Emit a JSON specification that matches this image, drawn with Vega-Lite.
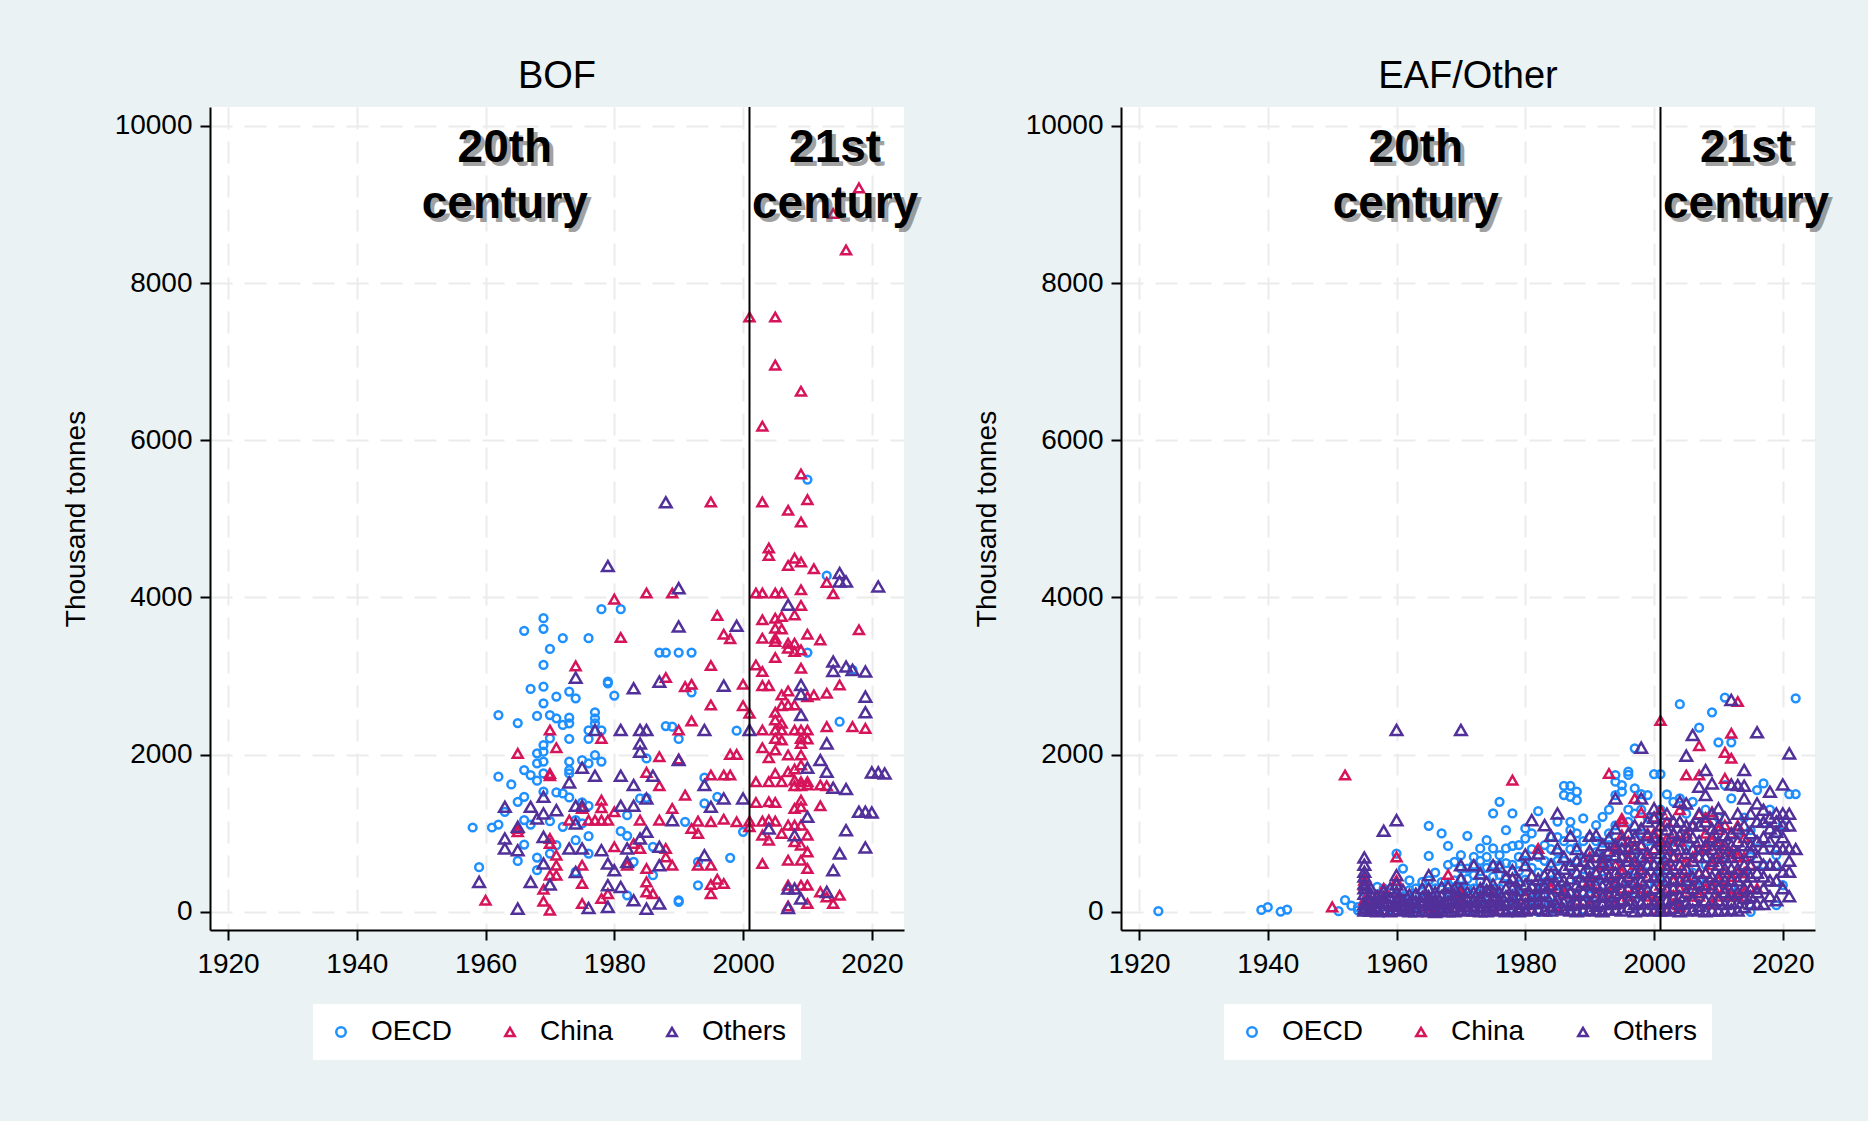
{
  "$schema": "https://vega.github.io/schema/vega-lite/v6.json",
  "background": "#EAF2F3",
  "padding": {"left": 62, "top": 58, "right": 34, "bottom": 61},
  "spacing": 50,
  "config": {
    "font": "Liberation Sans",
    "view": {"fill": "white", "stroke": null},
    "title": {"fontSize": 38, "fontWeight": "normal", "color": "black", "offset": 10, "font": "Liberation Sans"},
    "axis": {
      "domainColor": "black", "domainWidth": 2,
      "tickColor": "black", "tickWidth": 2, "tickSize": 10,
      "labelFontSize": 28, "labelColor": "black", "labelFont": "Liberation Sans",
      "titleFontSize": 28, "titleFontWeight": "normal", "titleColor": "black", "titleFont": "Liberation Sans",
      "gridColor": "#EBEBEB", "gridWidth": 2, "gridDash": [22, 12]
    },
    "axisX": {"labelPadding": 10},
    "axisY": {"labelPadding": 8, "titlePadding": 24},
    "legend": {
      "orient": "bottom", "direction": "horizontal", "fillColor": "white",
      "padding": 14, "offset": 26, "labelFontSize": 28, "labelColor": "black", "labelFont": "Liberation Sans",
      "symbolSize": 90, "symbolStrokeWidth": 2.5, "columnPadding": 44, "labelOffset": 16,
      "layout": {"bottom": {"anchor": "middle"}}
    }
  },
  "datasets": {
    "notes": [
      {"t": 1963, "v": 9546, "label": "20th"},
      {"t": 1963, "v": 8831, "label": "century"},
      {"t": 2014.3, "v": 9546, "label": "21st"},
      {"t": 2014.3, "v": 8831, "label": "century"}
    ],
    "cutoff": [{"year": 2001}],
    "bof": [
      {"g":"OECD","t":1978,"v":3852},{"g":"OECD","t":1981,"v":3852},{"g":"OECD","t":1969,"v":3737},{"g":"OECD","t":1969,"v":3601},
      {"g":"OECD","t":1966,"v":3576},{"g":"OECD","t":1972,"v":3482},{"g":"OECD","t":1976,"v":3482},{"g":"OECD","t":1970,"v":3346},
      {"g":"OECD","t":1969,"v":3142},{"g":"OECD","t":1987,"v":3300},{"g":"OECD","t":1988,"v":3300},{"g":"OECD","t":1990,"v":3300},
      {"g":"OECD","t":1992,"v":3300},{"g":"OECD","t":1979,"v":2930},{"g":"OECD","t":2010,"v":5500},{"g":"OECD","t":2013,"v":4277},
      {"g":"OECD","t":2010,"v":3300},{"g":"OECD","t":2017,"v":3079},{"g":"OECD","t":1967,"v":2837},{"g":"OECD","t":1969,"v":2866},
      {"g":"OECD","t":1971,"v":2739},{"g":"OECD","t":1973,"v":2803},{"g":"OECD","t":1974,"v":2718},{"g":"OECD","t":1969,"v":2654},
      {"g":"OECD","t":1962,"v":2505},{"g":"OECD","t":1965,"v":2403},{"g":"OECD","t":1968,"v":2493},{"g":"OECD","t":1970,"v":2505},
      {"g":"OECD","t":1971,"v":2463},{"g":"OECD","t":1973,"v":2471},{"g":"OECD","t":1973,"v":2399},{"g":"OECD","t":1972,"v":2378},
      {"g":"OECD","t":1977,"v":2539},{"g":"OECD","t":1977,"v":2463},{"g":"OECD","t":1977,"v":2399},{"g":"OECD","t":1976,"v":2310},
      {"g":"OECD","t":1978,"v":2310},{"g":"OECD","t":1976,"v":2200},{"g":"OECD","t":1973,"v":2200},{"g":"OECD","t":1970,"v":2208},
      {"g":"OECD","t":1969,"v":2123},{"g":"OECD","t":1969,"v":2038},{"g":"OECD","t":1968,"v":2017},{"g":"OECD","t":1969,"v":1911},
      {"g":"OECD","t":1968,"v":1890},{"g":"OECD","t":1966,"v":1805},{"g":"OECD","t":1967,"v":1741},{"g":"OECD","t":1968,"v":1669},
      {"g":"OECD","t":1969,"v":1762},{"g":"OECD","t":1973,"v":1911},{"g":"OECD","t":1973,"v":1805},{"g":"OECD","t":1973,"v":1762},
      {"g":"OECD","t":1975,"v":1932},{"g":"OECD","t":1976,"v":1890},{"g":"OECD","t":1977,"v":1996},{"g":"OECD","t":1978,"v":1911},
      {"g":"OECD","t":1980,"v":2752},{"g":"OECD","t":1979,"v":2909},{"g":"OECD","t":1988,"v":2365},{"g":"OECD","t":1985,"v":1953},
      {"g":"OECD","t":1962,"v":1720},{"g":"OECD","t":1964,"v":1622},{"g":"OECD","t":1966,"v":1465},{"g":"OECD","t":1965,"v":1401},
      {"g":"OECD","t":1969,"v":1529},{"g":"OECD","t":1971,"v":1520},{"g":"OECD","t":1972,"v":1507},{"g":"OECD","t":1973,"v":1456},
      {"g":"OECD","t":1975,"v":1393},{"g":"OECD","t":1976,"v":1350},{"g":"OECD","t":1984,"v":1443},{"g":"OECD","t":1985,"v":1452},
      {"g":"OECD","t":1958,"v":1074},{"g":"OECD","t":1961,"v":1074},{"g":"OECD","t":1962,"v":1112},{"g":"OECD","t":1963,"v":1274},
      {"g":"OECD","t":1966,"v":1168},{"g":"OECD","t":1967,"v":1112},{"g":"OECD","t":1970,"v":1155},{"g":"OECD","t":1972,"v":1083},
      {"g":"OECD","t":1974,"v":1168},{"g":"OECD","t":1975,"v":1125},{"g":"OECD","t":1976,"v":964},{"g":"OECD","t":1974,"v":913},
      {"g":"OECD","t":1981,"v":1027},{"g":"OECD","t":1982,"v":968},{"g":"OECD","t":1986,"v":828},{"g":"OECD","t":1982,"v":1231},
      {"g":"OECD","t":1966,"v":857},{"g":"OECD","t":1968,"v":692},{"g":"OECD","t":1965,"v":649},{"g":"OECD","t":1970,"v":743},
      {"g":"OECD","t":1971,"v":849},{"g":"OECD","t":1968,"v":531},{"g":"OECD","t":1959,"v":569},{"g":"OECD","t":1976,"v":743},
      {"g":"OECD","t":1983,"v":637},{"g":"OECD","t":1986,"v":467},{"g":"OECD","t":1982,"v":212},{"g":"OECD","t":1990,"v":148},
      {"g":"OECD","t":1974,"v":509},{"g":"OECD","t":1992,"v":2794},{"g":"OECD","t":1989,"v":2357},{"g":"OECD","t":1990,"v":2200},
      {"g":"OECD","t":1999,"v":2306},{"g":"OECD","t":2015,"v":2420},{"g":"OECD","t":1994,"v":1707},{"g":"OECD","t":1996,"v":1465},
      {"g":"OECD","t":1994,"v":1380},{"g":"OECD","t":1991,"v":1146},{"g":"OECD","t":2000,"v":1019},{"g":"OECD","t":1998,"v":688},
      {"g":"OECD","t":1993,"v":637},{"g":"OECD","t":1993,"v":339},{"g":"OECD","t":1990,"v":127},

      {"g":"China","t":2001,"v":7568},{"g":"China","t":2005,"v":7568},{"g":"China","t":2005,"v":6956},{"g":"China","t":2009,"v":6625},
      {"g":"China","t":2003,"v":6179},{"g":"China","t":2016,"v":8421},{"g":"China","t":2018,"v":9211},{"g":"China","t":2014,"v":8886},
      {"g":"China","t":1980,"v":3979},{"g":"China","t":1985,"v":4056},{"g":"China","t":1989,"v":4056},{"g":"China","t":1981,"v":3491},
      {"g":"China","t":1974,"v":3130},{"g":"China","t":1988,"v":2981},{"g":"China","t":2009,"v":5572},{"g":"China","t":1995,"v":5215},
      {"g":"China","t":2003,"v":5215},{"g":"China","t":2010,"v":5245},{"g":"China","t":2007,"v":5109},{"g":"China","t":2009,"v":4960},
      {"g":"China","t":2004,"v":4629},{"g":"China","t":2004,"v":4536},{"g":"China","t":2007,"v":4408},{"g":"China","t":2008,"v":4501},
      {"g":"China","t":2009,"v":4451},{"g":"China","t":2011,"v":4366},{"g":"China","t":2013,"v":4192},{"g":"China","t":2014,"v":4047},
      {"g":"China","t":2009,"v":4098},{"g":"China","t":2002,"v":4056},{"g":"China","t":2003,"v":4056},{"g":"China","t":2005,"v":4056},
      {"g":"China","t":2006,"v":4056},{"g":"China","t":2009,"v":3899},{"g":"China","t":1996,"v":3771},{"g":"China","t":2003,"v":3716},
      {"g":"China","t":2005,"v":3737},{"g":"China","t":2006,"v":3758},{"g":"China","t":2008,"v":3779},{"g":"China","t":2006,"v":3601},
      {"g":"China","t":2005,"v":3610},{"g":"China","t":1997,"v":3533},{"g":"China","t":1998,"v":3474},{"g":"China","t":2003,"v":3482},
      {"g":"China","t":2005,"v":3482},{"g":"China","t":2005,"v":3440},{"g":"China","t":2007,"v":3418},{"g":"China","t":2008,"v":3418},
      {"g":"China","t":2010,"v":3533},{"g":"China","t":2012,"v":3461},{"g":"China","t":2018,"v":3589},{"g":"China","t":2007,"v":3355},
      {"g":"China","t":2008,"v":3312},{"g":"China","t":2009,"v":3334},{"g":"China","t":2005,"v":3236},{"g":"China","t":1995,"v":3134},
      {"g":"China","t":2002,"v":3142},{"g":"China","t":2003,"v":3058},{"g":"China","t":2009,"v":3100},
      {"g":"China","t":1970,"v":2314},{"g":"China","t":1971,"v":2089},{"g":"China","t":1978,"v":2208},{"g":"China","t":1965,"v":2017},
      {"g":"China","t":1970,"v":1762},{"g":"China","t":1970,"v":1733},{"g":"China","t":1985,"v":1775},{"g":"China","t":1987,"v":1974},
      {"g":"China","t":1987,"v":1605},{"g":"China","t":1989,"v":1316},{"g":"China","t":1978,"v":1422},{"g":"China","t":1975,"v":1316},
      {"g":"China","t":1976,"v":1168},{"g":"China","t":1977,"v":1168},{"g":"China","t":1978,"v":1168},{"g":"China","t":1979,"v":1168},
      {"g":"China","t":1973,"v":1168},{"g":"China","t":1980,"v":1274},{"g":"China","t":1984,"v":1168},{"g":"China","t":1987,"v":1168},
      {"g":"China","t":1965,"v":1062},{"g":"China","t":1965,"v":1019},{"g":"China","t":1970,"v":934},{"g":"China","t":1970,"v":870},
      {"g":"China","t":1980,"v":828},{"g":"China","t":1983,"v":870},{"g":"China","t":1988,"v":700},{"g":"China","t":1989,"v":594},
      {"g":"China","t":1971,"v":722},{"g":"China","t":1971,"v":594},{"g":"China","t":1970,"v":467},{"g":"China","t":1971,"v":467},
      {"g":"China","t":1975,"v":594},{"g":"China","t":1982,"v":594},{"g":"China","t":1985,"v":552},{"g":"China","t":1985,"v":382},
      {"g":"China","t":1985,"v":255},{"g":"China","t":1986,"v":233},{"g":"China","t":1969,"v":288},{"g":"China","t":1969,"v":136},
      {"g":"China","t":1970,"v":21},{"g":"China","t":1975,"v":361},{"g":"China","t":1975,"v":106},{"g":"China","t":1978,"v":170},
      {"g":"China","t":1979,"v":233},{"g":"China","t":1960,"v":148},{"g":"China","t":1978,"v":1325},{"g":"China","t":1984,"v":807},
      {"g":"China","t":1988,"v":807},
      {"g":"China","t":1991,"v":2866},{"g":"China","t":1992,"v":2896},{"g":"China","t":2000,"v":2896},{"g":"China","t":2003,"v":2879},
      {"g":"China","t":2004,"v":2879},{"g":"China","t":2015,"v":2888},{"g":"China","t":2006,"v":2760},{"g":"China","t":2007,"v":2811},
      {"g":"China","t":2010,"v":2739},{"g":"China","t":2011,"v":2760},{"g":"China","t":2013,"v":2781},{"g":"China","t":1995,"v":2633},
      {"g":"China","t":2000,"v":2624},{"g":"China","t":2001,"v":2527},{"g":"China","t":2005,"v":2539},{"g":"China","t":2006,"v":2624},
      {"g":"China","t":2007,"v":2633},{"g":"China","t":2008,"v":2633},{"g":"China","t":1992,"v":2429},{"g":"China","t":1990,"v":2314},
      {"g":"China","t":2005,"v":2442},{"g":"China","t":2006,"v":2399},{"g":"China","t":2003,"v":2314},{"g":"China","t":2005,"v":2314},
      {"g":"China","t":2006,"v":2314},{"g":"China","t":2008,"v":2314},{"g":"China","t":2009,"v":2314},{"g":"China","t":2010,"v":2314},
      {"g":"China","t":2005,"v":2208},{"g":"China","t":2006,"v":2187},{"g":"China","t":2009,"v":2208},{"g":"China","t":2010,"v":2200},
      {"g":"China","t":2009,"v":2144},{"g":"China","t":2013,"v":2357},{"g":"China","t":2017,"v":2357},{"g":"China","t":2019,"v":2335},
      {"g":"China","t":2003,"v":2089},{"g":"China","t":2005,"v":2059},{"g":"China","t":2004,"v":1962},{"g":"China","t":2007,"v":1996},
      {"g":"China","t":2009,"v":1996},{"g":"China","t":1998,"v":2004},{"g":"China","t":1999,"v":2004},{"g":"China","t":1990,"v":1945},
      {"g":"China","t":1995,"v":1741},{"g":"China","t":1997,"v":1741},{"g":"China","t":1998,"v":1741},{"g":"China","t":2002,"v":1656},
      {"g":"China","t":2004,"v":1656},{"g":"China","t":2005,"v":1762},{"g":"China","t":2006,"v":1656},{"g":"China","t":2007,"v":1783},
      {"g":"China","t":2008,"v":1817},{"g":"China","t":2009,"v":1868},{"g":"China","t":2008,"v":1677},{"g":"China","t":2009,"v":1656},
      {"g":"China","t":2010,"v":1656},{"g":"China","t":2008,"v":1605},{"g":"China","t":2009,"v":1605},{"g":"China","t":2010,"v":1614},
      {"g":"China","t":2012,"v":1614},{"g":"China","t":2013,"v":1605},{"g":"China","t":1991,"v":1486},{"g":"China","t":2002,"v":1393},
      {"g":"China","t":2004,"v":1401},{"g":"China","t":2005,"v":1393},{"g":"China","t":2009,"v":1422},{"g":"China","t":2008,"v":1316},
      {"g":"China","t":2009,"v":1337},{"g":"China","t":2012,"v":1350},{"g":"China","t":1993,"v":1155},{"g":"China","t":1992,"v":1062},
      {"g":"China","t":1993,"v":998},{"g":"China","t":1995,"v":1146},{"g":"China","t":1997,"v":1180},{"g":"China","t":1999,"v":1146},
      {"g":"China","t":2001,"v":1155},{"g":"China","t":2001,"v":1083},{"g":"China","t":2003,"v":1155},{"g":"China","t":2004,"v":1168},
      {"g":"China","t":2005,"v":1155},{"g":"China","t":2007,"v":1104},{"g":"China","t":2008,"v":1104},{"g":"China","t":2009,"v":1104},
      {"g":"China","t":2006,"v":998},{"g":"China","t":2003,"v":977},{"g":"China","t":2004,"v":913},{"g":"China","t":2008,"v":892},
      {"g":"China","t":2009,"v":849},{"g":"China","t":2010,"v":977},{"g":"China","t":2010,"v":764},{"g":"China","t":1993,"v":594},
      {"g":"China","t":1995,"v":594},{"g":"China","t":2003,"v":615},{"g":"China","t":2007,"v":658},{"g":"China","t":2009,"v":658},
      {"g":"China","t":2010,"v":552},{"g":"China","t":1995,"v":348},{"g":"China","t":1996,"v":416},{"g":"China","t":1997,"v":361},
      {"g":"China","t":1995,"v":233},{"g":"China","t":2007,"v":339},{"g":"China","t":2009,"v":339},{"g":"China","t":2010,"v":339},
      {"g":"China","t":2012,"v":255},{"g":"China","t":2013,"v":191},{"g":"China","t":2015,"v":212},{"g":"China","t":2010,"v":106},
      {"g":"China","t":2014,"v":106},{"g":"China","t":2007,"v":76},

      {"g":"Others","t":1988,"v":5211},{"g":"Others","t":1979,"v":4400},{"g":"Others","t":1990,"v":4119},{"g":"Others","t":1990,"v":3631},
      {"g":"Others","t":1974,"v":2981},{"g":"Others","t":1987,"v":2930},{"g":"Others","t":2015,"v":4311},{"g":"Others","t":2015,"v":4204},
      {"g":"Others","t":2016,"v":4204},{"g":"Others","t":2021,"v":4141},{"g":"Others","t":2007,"v":3907},{"g":"Others","t":1999,"v":3640},
      {"g":"Others","t":2014,"v":3185},{"g":"Others","t":2014,"v":3066},{"g":"Others","t":2016,"v":3121},{"g":"Others","t":2017,"v":3079},
      {"g":"Others","t":2019,"v":3058},{"g":"Others","t":1983,"v":2845},{"g":"Others","t":1981,"v":2314},{"g":"Others","t":1984,"v":2314},
      {"g":"Others","t":1985,"v":2314},{"g":"Others","t":1977,"v":2314},{"g":"Others","t":1984,"v":2144},{"g":"Others","t":1984,"v":2038},
      {"g":"Others","t":1975,"v":1834},{"g":"Others","t":1977,"v":1733},{"g":"Others","t":1973,"v":1648},{"g":"Others","t":1981,"v":1733},
      {"g":"Others","t":1983,"v":1614},{"g":"Others","t":1986,"v":1733},{"g":"Others","t":1969,"v":1465},{"g":"Others","t":1985,"v":1443},
      {"g":"Others","t":1963,"v":1337},{"g":"Others","t":1967,"v":1337},{"g":"Others","t":1971,"v":1295},{"g":"Others","t":1974,"v":1350},
      {"g":"Others","t":1975,"v":1350},{"g":"Others","t":1981,"v":1350},{"g":"Others","t":1983,"v":1350},{"g":"Others","t":1968,"v":1189},
      {"g":"Others","t":1969,"v":1253},{"g":"Others","t":1974,"v":1125},{"g":"Others","t":1989,"v":1168},{"g":"Others","t":1965,"v":1083},
      {"g":"Others","t":1969,"v":955},{"g":"Others","t":1963,"v":934},{"g":"Others","t":1963,"v":807},{"g":"Others","t":1965,"v":785},
      {"g":"Others","t":1973,"v":807},{"g":"Others","t":1975,"v":807},{"g":"Others","t":1978,"v":785},{"g":"Others","t":1982,"v":807},
      {"g":"Others","t":1985,"v":1019},{"g":"Others","t":1984,"v":934},{"g":"Others","t":1987,"v":828},{"g":"Others","t":1969,"v":615},
      {"g":"Others","t":1974,"v":509},{"g":"Others","t":1979,"v":615},{"g":"Others","t":1980,"v":531},{"g":"Others","t":1982,"v":637},
      {"g":"Others","t":1987,"v":594},{"g":"Others","t":1959,"v":382},{"g":"Others","t":1967,"v":382},{"g":"Others","t":1970,"v":348},
      {"g":"Others","t":1979,"v":339},{"g":"Others","t":1981,"v":318},{"g":"Others","t":1983,"v":148},{"g":"Others","t":1965,"v":42},
      {"g":"Others","t":1976,"v":51},{"g":"Others","t":1979,"v":64},{"g":"Others","t":1985,"v":42},{"g":"Others","t":1987,"v":106},
      {"g":"Others","t":1997,"v":2879},{"g":"Others","t":2009,"v":2888},{"g":"Others","t":2009,"v":2769},{"g":"Others","t":2019,"v":2739},
      {"g":"Others","t":2019,"v":2539},{"g":"Others","t":1994,"v":2314},{"g":"Others","t":2001,"v":2314},{"g":"Others","t":2009,"v":2505},
      {"g":"Others","t":2013,"v":2144},{"g":"Others","t":2012,"v":1932},{"g":"Others","t":2010,"v":1834},{"g":"Others","t":2013,"v":1783},
      {"g":"Others","t":1990,"v":1932},{"g":"Others","t":1994,"v":1614},{"g":"Others","t":2014,"v":1580},{"g":"Others","t":2016,"v":1563},
      {"g":"Others","t":2020,"v":1775},{"g":"Others","t":2021,"v":1775},{"g":"Others","t":2022,"v":1762},{"g":"Others","t":1997,"v":1444},
      {"g":"Others","t":2000,"v":1444},{"g":"Others","t":1995,"v":1337},{"g":"Others","t":2018,"v":1274},{"g":"Others","t":2019,"v":1274},
      {"g":"Others","t":2020,"v":1265},{"g":"Others","t":2010,"v":1210},{"g":"Others","t":2004,"v":1062},{"g":"Others","t":2008,"v":977},
      {"g":"Others","t":2016,"v":1040},{"g":"Others","t":1994,"v":722},{"g":"Others","t":2015,"v":743},{"g":"Others","t":2019,"v":820},
      {"g":"Others","t":2014,"v":530},{"g":"Others","t":2007,"v":297},{"g":"Others","t":2008,"v":297},{"g":"Others","t":2013,"v":255},
      {"g":"Others","t":2009,"v":170},{"g":"Others","t":2007,"v":51}
    ],
    "eaf": [
      {"g":"OECD","t":1923,"v":10},{"g":"OECD","t":1939,"v":25},{"g":"OECD","t":1940,"v":60},{"g":"OECD","t":1942,"v":5},
      {"g":"OECD","t":1943,"v":30},{"g":"OECD","t":1951,"v":10},{"g":"OECD","t":1952,"v":150},{"g":"OECD","t":1953,"v":80},
      {"g":"OECD","t":1954,"v":20},{"g":"OECD","t":1954,"v":60},{"g":"OECD","t":1955,"v":0},{"g":"OECD","t":1955,"v":120},
      {"g":"OECD","t":1956,"v":30},{"g":"OECD","t":1956,"v":200},{"g":"OECD","t":1957,"v":320},{"g":"OECD","t":1957,"v":60},
      {"g":"OECD","t":1958,"v":10},{"g":"OECD","t":1958,"v":150},{"g":"OECD","t":1959,"v":90},{"g":"OECD","t":1959,"v":250},
      {"g":"OECD","t":1960,"v":743},{"g":"OECD","t":1960,"v":20},{"g":"OECD","t":1960,"v":180},{"g":"OECD","t":1961,"v":552},
      {"g":"OECD","t":1961,"v":40},{"g":"OECD","t":1961,"v":110},{"g":"OECD","t":1962,"v":276},{"g":"OECD","t":1962,"v":0},
      {"g":"OECD","t":1962,"v":160},{"g":"OECD","t":1963,"v":70},{"g":"OECD","t":1963,"v":230},{"g":"OECD","t":1964,"v":382},
      {"g":"OECD","t":1964,"v":255},{"g":"OECD","t":1964,"v":30},{"g":"OECD","t":1965,"v":1095},{"g":"OECD","t":1965,"v":713},
      {"g":"OECD","t":1965,"v":90},{"g":"OECD","t":1965,"v":180},{"g":"OECD","t":1966,"v":20},{"g":"OECD","t":1966,"v":300},
      {"g":"OECD","t":1966,"v":140},{"g":"OECD","t":1967,"v":998},{"g":"OECD","t":1967,"v":60},{"g":"OECD","t":1967,"v":210},
      {"g":"OECD","t":1968,"v":840},{"g":"OECD","t":1968,"v":120},{"g":"OECD","t":1968,"v":350},{"g":"OECD","t":1969,"v":637},
      {"g":"OECD","t":1969,"v":10},{"g":"OECD","t":1969,"v":260},{"g":"OECD","t":1970,"v":722},{"g":"OECD","t":1970,"v":80},
      {"g":"OECD","t":1970,"v":420},{"g":"OECD","t":1970,"v":180},{"g":"OECD","t":1971,"v":968},{"g":"OECD","t":1971,"v":552},
      {"g":"OECD","t":1971,"v":40},{"g":"OECD","t":1971,"v":300},{"g":"OECD","t":1972,"v":700},{"g":"OECD","t":1972,"v":467},
      {"g":"OECD","t":1972,"v":150},{"g":"OECD","t":1972,"v":20},{"g":"OECD","t":1973,"v":807},{"g":"OECD","t":1973,"v":240},
      {"g":"OECD","t":1973,"v":60},{"g":"OECD","t":1973,"v":380},{"g":"OECD","t":1974,"v":913},{"g":"OECD","t":1974,"v":560},
      {"g":"OECD","t":1974,"v":110},{"g":"OECD","t":1974,"v":0},{"g":"OECD","t":1975,"v":1253},{"g":"OECD","t":1975,"v":807},
      {"g":"OECD","t":1975,"v":300},{"g":"OECD","t":1975,"v":30},{"g":"OECD","t":1976,"v":1401},{"g":"OECD","t":1976,"v":722},
      {"g":"OECD","t":1976,"v":180},{"g":"OECD","t":1976,"v":470},{"g":"OECD","t":1976,"v":10},{"g":"OECD","t":1977,"v":1040},
      {"g":"OECD","t":1977,"v":807},{"g":"OECD","t":1977,"v":620},{"g":"OECD","t":1977,"v":90},{"g":"OECD","t":1978,"v":1253},
      {"g":"OECD","t":1978,"v":840},{"g":"OECD","t":1978,"v":330},{"g":"OECD","t":1978,"v":40},{"g":"OECD","t":1979,"v":700},
      {"g":"OECD","t":1979,"v":210},{"g":"OECD","t":1979,"v":20},{"g":"OECD","t":1979,"v":520},{"g":"OECD","t":1980,"v":1062},
      {"g":"OECD","t":1980,"v":934},{"g":"OECD","t":1980,"v":410},{"g":"OECD","t":1980,"v":80},{"g":"OECD","t":1981,"v":998},
      {"g":"OECD","t":1981,"v":560},{"g":"OECD","t":1981,"v":150},{"g":"OECD","t":1981,"v":20},{"g":"OECD","t":1982,"v":1282},
      {"g":"OECD","t":1982,"v":700},{"g":"OECD","t":1982,"v":260},{"g":"OECD","t":1982,"v":0},{"g":"OECD","t":1983,"v":850},
      {"g":"OECD","t":1983,"v":380},{"g":"OECD","t":1983,"v":60},{"g":"OECD","t":1984,"v":960},{"g":"OECD","t":1984,"v":620},
      {"g":"OECD","t":1984,"v":200},{"g":"OECD","t":1984,"v":30},{"g":"OECD","t":1985,"v":1150},{"g":"OECD","t":1985,"v":760},
      {"g":"OECD","t":1985,"v":480},{"g":"OECD","t":1985,"v":110},{"g":"OECD","t":1986,"v":1605},{"g":"OECD","t":1986,"v":1486},
      {"g":"OECD","t":1986,"v":900},{"g":"OECD","t":1986,"v":300},{"g":"OECD","t":1986,"v":20},{"g":"OECD","t":1987,"v":1605},
      {"g":"OECD","t":1987,"v":1465},{"g":"OECD","t":1987,"v":1146},{"g":"OECD","t":1987,"v":1040},{"g":"OECD","t":1987,"v":560},
      {"g":"OECD","t":1987,"v":70},{"g":"OECD","t":1988,"v":1529},{"g":"OECD","t":1988,"v":1422},{"g":"OECD","t":1988,"v":820},
      {"g":"OECD","t":1988,"v":400},{"g":"OECD","t":1988,"v":10},{"g":"OECD","t":1989,"v":1189},{"g":"OECD","t":1989,"v":690},
      {"g":"OECD","t":1989,"v":250},{"g":"OECD","t":1989,"v":30},{"g":"OECD","t":1990,"v":950},{"g":"OECD","t":1990,"v":520},
      {"g":"OECD","t":1990,"v":140},{"g":"OECD","t":1991,"v":1104},{"g":"OECD","t":1991,"v":760},{"g":"OECD","t":1991,"v":300},
      {"g":"OECD","t":1991,"v":0},{"g":"OECD","t":1992,"v":1210},{"g":"OECD","t":1992,"v":880},{"g":"OECD","t":1992,"v":420},
      {"g":"OECD","t":1992,"v":90},{"g":"OECD","t":1993,"v":1000},{"g":"OECD","t":1993,"v":640},{"g":"OECD","t":1993,"v":200},
      {"g":"OECD","t":1994,"v":1741},{"g":"OECD","t":1994,"v":1656},{"g":"OECD","t":1994,"v":1487},{"g":"OECD","t":1994,"v":880},
      {"g":"OECD","t":1994,"v":300},{"g":"OECD","t":1995,"v":1614},{"g":"OECD","t":1995,"v":1529},{"g":"OECD","t":1995,"v":1147},
      {"g":"OECD","t":1995,"v":700},{"g":"OECD","t":1995,"v":150},{"g":"OECD","t":1996,"v":1784},{"g":"OECD","t":1996,"v":1742},
      {"g":"OECD","t":1996,"v":1146},{"g":"OECD","t":1996,"v":820},{"g":"OECD","t":1996,"v":400},{"g":"OECD","t":1997,"v":2081},
      {"g":"OECD","t":1997,"v":1572},{"g":"OECD","t":1997,"v":1000},{"g":"OECD","t":1997,"v":520},{"g":"OECD","t":1997,"v":60},
      {"g":"OECD","t":1998,"v":1300},{"g":"OECD","t":1998,"v":700},{"g":"OECD","t":1998,"v":200},{"g":"OECD","t":1999,"v":1487},
      {"g":"OECD","t":1999,"v":900},{"g":"OECD","t":1999,"v":350},{"g":"OECD","t":2000,"v":1754},{"g":"OECD","t":2000,"v":1200},
      {"g":"OECD","t":2000,"v":600},{"g":"OECD","t":2000,"v":100},{"g":"OECD","t":2001,"v":1754},{"g":"OECD","t":2001,"v":1300},
      {"g":"OECD","t":2001,"v":500},{"g":"OECD","t":2002,"v":1495},{"g":"OECD","t":2002,"v":1126},{"g":"OECD","t":2002,"v":700},
      {"g":"OECD","t":2003,"v":1400},{"g":"OECD","t":2003,"v":400},{"g":"OECD","t":2004,"v":2642},{"g":"OECD","t":2004,"v":1444},
      {"g":"OECD","t":2004,"v":900},{"g":"OECD","t":2005,"v":1250},{"g":"OECD","t":2005,"v":300},{"g":"OECD","t":2006,"v":1100},
      {"g":"OECD","t":2006,"v":500},{"g":"OECD","t":2007,"v":2344},{"g":"OECD","t":2007,"v":800},{"g":"OECD","t":2008,"v":1300},
      {"g":"OECD","t":2008,"v":600},{"g":"OECD","t":2009,"v":2540},{"g":"OECD","t":2009,"v":900},{"g":"OECD","t":2010,"v":2158},
      {"g":"OECD","t":2010,"v":1200},{"g":"OECD","t":2010,"v":400},{"g":"OECD","t":2011,"v":2727},{"g":"OECD","t":2011,"v":1614},
      {"g":"OECD","t":2011,"v":700},{"g":"OECD","t":2012,"v":2158},{"g":"OECD","t":2012,"v":1444},{"g":"OECD","t":2012,"v":300},
      {"g":"OECD","t":2013,"v":1000},{"g":"OECD","t":2014,"v":1200},{"g":"OECD","t":2014,"v":500},{"g":"OECD","t":2015,"v":1041},
      {"g":"OECD","t":2015,"v":0},{"g":"OECD","t":2015,"v":700},{"g":"OECD","t":2016,"v":1550},{"g":"OECD","t":2016,"v":900},
      {"g":"OECD","t":2017,"v":1635},{"g":"OECD","t":2017,"v":1126},{"g":"OECD","t":2017,"v":600},{"g":"OECD","t":2018,"v":1300},
      {"g":"OECD","t":2018,"v":800},{"g":"OECD","t":2019,"v":722},{"g":"OECD","t":2019,"v":595},{"g":"OECD","t":2019,"v":85},
      {"g":"OECD","t":2019,"v":1000},{"g":"OECD","t":2020,"v":340},{"g":"OECD","t":2020,"v":1100},{"g":"OECD","t":2021,"v":1500},
      {"g":"OECD","t":2022,"v":1500},{"g":"OECD","t":2022,"v":2718},
      {"g":"OECD","t":1955,"v":60},{"g":"OECD","t":1955,"v":250},{"g":"OECD","t":1956,"v":100},{"g":"OECD","t":1957,"v":150},
      {"g":"OECD","t":1958,"v":70},{"g":"OECD","t":1958,"v":300},{"g":"OECD","t":1959,"v":30},{"g":"OECD","t":1959,"v":170},
      {"g":"OECD","t":1960,"v":100},{"g":"OECD","t":1960,"v":300},{"g":"OECD","t":1961,"v":200},{"g":"OECD","t":1962,"v":80},
      {"g":"OECD","t":1962,"v":400},{"g":"OECD","t":1963,"v":150},{"g":"OECD","t":1963,"v":300},{"g":"OECD","t":1964,"v":120},
      {"g":"OECD","t":1965,"v":30},{"g":"OECD","t":1965,"v":400},{"g":"OECD","t":1966,"v":200},{"g":"OECD","t":1966,"v":500},
      {"g":"OECD","t":1967,"v":130},{"g":"OECD","t":1967,"v":380},{"g":"OECD","t":1968,"v":40},{"g":"OECD","t":1968,"v":250},
      {"g":"OECD","t":1968,"v":600},{"g":"OECD","t":1969,"v":150},{"g":"OECD","t":1969,"v":400},{"g":"OECD","t":1970,"v":300},
      {"g":"OECD","t":1970,"v":550},{"g":"OECD","t":1971,"v":150},{"g":"OECD","t":1971,"v":420},{"g":"OECD","t":1972,"v":300},
      {"g":"OECD","t":1972,"v":600},{"g":"OECD","t":1973,"v":150},{"g":"OECD","t":1973,"v":520},{"g":"OECD","t":1973,"v":650},
      {"g":"OECD","t":1974,"v":250},{"g":"OECD","t":1974,"v":700},{"g":"OECD","t":1975,"v":150},{"g":"OECD","t":1975,"v":450},
      {"g":"OECD","t":1975,"v":600},{"g":"OECD","t":1976,"v":300},{"g":"OECD","t":1976,"v":600},{"g":"OECD","t":1977,"v":200},
      {"g":"OECD","t":1977,"v":450},{"g":"OECD","t":1978,"v":150},{"g":"OECD","t":1978,"v":600},{"g":"OECD","t":1979,"v":350},
      {"g":"OECD","t":1979,"v":850},{"g":"OECD","t":1980,"v":200},{"g":"OECD","t":1980,"v":650},{"g":"OECD","t":1981,"v":300},
      {"g":"OECD","t":1981,"v":800},{"g":"OECD","t":1982,"v":150},{"g":"OECD","t":1982,"v":500},{"g":"OECD","t":1983,"v":200},
      {"g":"OECD","t":1983,"v":650},{"g":"OECD","t":1984,"v":400},{"g":"OECD","t":1984,"v":800},{"g":"OECD","t":1985,"v":250},
      {"g":"OECD","t":1985,"v":650},{"g":"OECD","t":1985,"v":950},{"g":"OECD","t":1986,"v":150},{"g":"OECD","t":1986,"v":650},
      {"g":"OECD","t":1987,"v":250},{"g":"OECD","t":1987,"v":800},{"g":"OECD","t":1988,"v":200},{"g":"OECD","t":1988,"v":650},
      {"g":"OECD","t":1988,"v":1000},{"g":"OECD","t":1989,"v":450},{"g":"OECD","t":1989,"v":900},{"g":"OECD","t":1990,"v":300},
      {"g":"OECD","t":1990,"v":750},{"g":"OECD","t":1991,"v":500},{"g":"OECD","t":1991,"v":900},{"g":"OECD","t":1992,"v":250},
      {"g":"OECD","t":1992,"v":650},{"g":"OECD","t":1993,"v":450},{"g":"OECD","t":1993,"v":850},{"g":"OECD","t":1993,"v":1300},
      {"g":"OECD","t":1994,"v":600},{"g":"OECD","t":1994,"v":1100},{"g":"OECD","t":1995,"v":400},{"g":"OECD","t":1995,"v":900},
      {"g":"OECD","t":1996,"v":200},{"g":"OECD","t":1996,"v":1300},{"g":"OECD","t":1997,"v":300},{"g":"OECD","t":1997,"v":800},
      {"g":"OECD","t":1997,"v":1250},{"g":"OECD","t":1998,"v":1000},{"g":"OECD","t":1998,"v":1500},{"g":"OECD","t":1999,"v":600},
      {"g":"OECD","t":1999,"v":1200},{"g":"OECD","t":2000,"v":400},{"g":"OECD","t":2000,"v":900},{"g":"OECD","t":2001,"v":200},
      {"g":"OECD","t":2001,"v":900},{"g":"OECD","t":2002,"v":400},{"g":"OECD","t":2003,"v":900},{"g":"OECD","t":2004,"v":300},
      {"g":"OECD","t":2005,"v":800},{"g":"OECD","t":2006,"v":1400},{"g":"OECD","t":2007,"v":400},

      {"g":"China","t":1950,"v":64},{"g":"China","t":1952,"v":1741},{"g":"China","t":1955,"v":403},{"g":"China","t":1955,"v":340},
      {"g":"China","t":1955,"v":150},{"g":"China","t":1955,"v":42},{"g":"China","t":1956,"v":80},{"g":"China","t":1957,"v":200},
      {"g":"China","t":1958,"v":170},{"g":"China","t":1958,"v":300},{"g":"China","t":1960,"v":700},{"g":"China","t":1960,"v":400},
      {"g":"China","t":1960,"v":100},{"g":"China","t":1962,"v":60},{"g":"China","t":1965,"v":200},{"g":"China","t":1966,"v":148},
      {"g":"China","t":1968,"v":475},{"g":"China","t":1970,"v":100},{"g":"China","t":1975,"v":50},{"g":"China","t":1978,"v":1677},
      {"g":"China","t":1980,"v":200},{"g":"China","t":1982,"v":807},{"g":"China","t":1984,"v":300},{"g":"China","t":1986,"v":233},
      {"g":"China","t":1988,"v":150},{"g":"China","t":1990,"v":400},{"g":"China","t":1991,"v":250},{"g":"China","t":1992,"v":600},
      {"g":"China","t":1993,"v":1762},{"g":"China","t":1993,"v":467},{"g":"China","t":1993,"v":100},{"g":"China","t":1994,"v":800},
      {"g":"China","t":1994,"v":350},{"g":"China","t":1995,"v":1147},{"g":"China","t":1995,"v":977},{"g":"China","t":1995,"v":1189},
      {"g":"China","t":1995,"v":500},{"g":"China","t":1996,"v":700},{"g":"China","t":1996,"v":200},{"g":"China","t":1997,"v":1444},
      {"g":"China","t":1997,"v":600},{"g":"China","t":1998,"v":1266},{"g":"China","t":1998,"v":850},{"g":"China","t":1998,"v":300},
      {"g":"China","t":1999,"v":1000},{"g":"China","t":1999,"v":450},{"g":"China","t":2000,"v":800},{"g":"China","t":2000,"v":150},
      {"g":"China","t":2001,"v":2434},{"g":"China","t":2001,"v":1296},{"g":"China","t":2001,"v":913},{"g":"China","t":2001,"v":340},
      {"g":"China","t":2001,"v":50},{"g":"China","t":2002,"v":1147},{"g":"China","t":2002,"v":935},{"g":"China","t":2002,"v":600},
      {"g":"China","t":2002,"v":20},{"g":"China","t":2003,"v":212},{"g":"China","t":2003,"v":700},{"g":"China","t":2003,"v":400},
      {"g":"China","t":2004,"v":64},{"g":"China","t":2004,"v":500},{"g":"China","t":2004,"v":900},{"g":"China","t":2005,"v":1741},
      {"g":"China","t":2005,"v":637},{"g":"China","t":2005,"v":250},{"g":"China","t":2006,"v":1100},{"g":"China","t":2006,"v":350},
      {"g":"China","t":2007,"v":2115},{"g":"China","t":2007,"v":1741},{"g":"China","t":2007,"v":1245},{"g":"China","t":2007,"v":500},
      {"g":"China","t":2008,"v":297},{"g":"China","t":2008,"v":800},{"g":"China","t":2008,"v":1000},{"g":"China","t":2009,"v":1274},
      {"g":"China","t":2009,"v":600},{"g":"China","t":2009,"v":100},{"g":"China","t":2010,"v":680},{"g":"China","t":2010,"v":400},
      {"g":"China","t":2010,"v":1050},{"g":"China","t":2011,"v":2030},{"g":"China","t":2011,"v":1699},{"g":"China","t":2011,"v":1104},
      {"g":"China","t":2011,"v":300},{"g":"China","t":2012,"v":2272},{"g":"China","t":2012,"v":1954},{"g":"China","t":2012,"v":764},
      {"g":"China","t":2012,"v":200},{"g":"China","t":2013,"v":2676},{"g":"China","t":2013,"v":500},{"g":"China","t":2014,"v":943},
      {"g":"China","t":2014,"v":250},{"g":"China","t":2015,"v":600},{"g":"China","t":2016,"v":300},
      {"g":"China","t":1960,"v":250},{"g":"China","t":1965,"v":60},{"g":"China","t":1970,"v":250},{"g":"China","t":1975,"v":200},
      {"g":"China","t":1980,"v":40},{"g":"China","t":1985,"v":80},{"g":"China","t":1990,"v":100},{"g":"China","t":1990,"v":700},
      {"g":"China","t":1991,"v":500},{"g":"China","t":1992,"v":200},{"g":"China","t":1993,"v":250},{"g":"China","t":1994,"v":100},
      {"g":"China","t":1994,"v":600},{"g":"China","t":1995,"v":150},{"g":"China","t":1995,"v":300},{"g":"China","t":1996,"v":450},
      {"g":"China","t":1996,"v":900},{"g":"China","t":1997,"v":100},{"g":"China","t":1997,"v":300},{"g":"China","t":1997,"v":850},
      {"g":"China","t":1998,"v":500},{"g":"China","t":1999,"v":200},{"g":"China","t":1999,"v":700},{"g":"China","t":2000,"v":450},
      {"g":"China","t":2000,"v":1000},{"g":"China","t":2000,"v":1200},{"g":"China","t":2001,"v":600},{"g":"China","t":2001,"v":1100},
      {"g":"China","t":2002,"v":300},{"g":"China","t":2002,"v":800},{"g":"China","t":2003,"v":100},{"g":"China","t":2003,"v":1000},
      {"g":"China","t":2004,"v":300},{"g":"China","t":2004,"v":700},{"g":"China","t":2004,"v":1300},{"g":"China","t":2005,"v":450},
      {"g":"China","t":2005,"v":1000},{"g":"China","t":2006,"v":200},{"g":"China","t":2006,"v":700},{"g":"China","t":2007,"v":200},
      {"g":"China","t":2007,"v":800},{"g":"China","t":2008,"v":500},{"g":"China","t":2008,"v":1200},{"g":"China","t":2009,"v":350},
      {"g":"China","t":2009,"v":900},{"g":"China","t":2010,"v":200},{"g":"China","t":2010,"v":850},{"g":"China","t":2011,"v":500},
      {"g":"China","t":2011,"v":800},{"g":"China","t":2012,"v":450},{"g":"China","t":2012,"v":1000},{"g":"China","t":2013,"v":200},
      {"g":"China","t":2013,"v":700},{"g":"China","t":2013,"v":1100},{"g":"China","t":2014,"v":500},{"g":"China","t":2014,"v":700},
      {"g":"China","t":2015,"v":300},

      {"g":"Others","t":1955,"v":692},{"g":"Others","t":1955,"v":510},{"g":"Others","t":1955,"v":361},{"g":"Others","t":1955,"v":233},
      {"g":"Others","t":1955,"v":100},{"g":"Others","t":1955,"v":20},{"g":"Others","t":1955,"v":600},{"g":"Others","t":1955,"v":450},
      {"g":"Others","t":1956,"v":20},{"g":"Others","t":1956,"v":150},{"g":"Others","t":1956,"v":300},{"g":"Others","t":1957,"v":50},
      {"g":"Others","t":1957,"v":200},{"g":"Others","t":1958,"v":1032},{"g":"Others","t":1958,"v":30},{"g":"Others","t":1958,"v":120},
      {"g":"Others","t":1958,"v":260},{"g":"Others","t":1959,"v":10},{"g":"Others","t":1959,"v":180},{"g":"Others","t":1960,"v":2314},
      {"g":"Others","t":1960,"v":1168},{"g":"Others","t":1960,"v":467},{"g":"Others","t":1960,"v":255},{"g":"Others","t":1960,"v":80},
      {"g":"Others","t":1960,"v":20},{"g":"Others","t":1960,"v":350},{"g":"Others","t":1961,"v":40},{"g":"Others","t":1961,"v":150},
      {"g":"Others","t":1962,"v":10},{"g":"Others","t":1962,"v":220},{"g":"Others","t":1963,"v":60},{"g":"Others","t":1963,"v":130},
      {"g":"Others","t":1964,"v":20},{"g":"Others","t":1964,"v":300},{"g":"Others","t":1965,"v":467},{"g":"Others","t":1965,"v":90},
      {"g":"Others","t":1965,"v":200},{"g":"Others","t":1965,"v":10},{"g":"Others","t":1966,"v":40},{"g":"Others","t":1966,"v":160},
      {"g":"Others","t":1967,"v":318},{"g":"Others","t":1967,"v":20},{"g":"Others","t":1967,"v":100},{"g":"Others","t":1968,"v":60},
      {"g":"Others","t":1968,"v":220},{"g":"Others","t":1969,"v":10},{"g":"Others","t":1969,"v":140},{"g":"Others","t":1969,"v":300},
      {"g":"Others","t":1970,"v":2314},{"g":"Others","t":1970,"v":594},{"g":"Others","t":1970,"v":424},{"g":"Others","t":1970,"v":30},
      {"g":"Others","t":1970,"v":180},{"g":"Others","t":1971,"v":80},{"g":"Others","t":1971,"v":250},{"g":"Others","t":1972,"v":594},
      {"g":"Others","t":1972,"v":20},{"g":"Others","t":1972,"v":150},{"g":"Others","t":1973,"v":488},{"g":"Others","t":1973,"v":60},
      {"g":"Others","t":1973,"v":300},{"g":"Others","t":1974,"v":10},{"g":"Others","t":1974,"v":200},{"g":"Others","t":1974,"v":380},
      {"g":"Others","t":1975,"v":594},{"g":"Others","t":1975,"v":90},{"g":"Others","t":1975,"v":260},{"g":"Others","t":1976,"v":573},
      {"g":"Others","t":1976,"v":30},{"g":"Others","t":1976,"v":150},{"g":"Others","t":1977,"v":100},{"g":"Others","t":1977,"v":300},
      {"g":"Others","t":1977,"v":440},{"g":"Others","t":1978,"v":530},{"g":"Others","t":1978,"v":424},{"g":"Others","t":1978,"v":40},
      {"g":"Others","t":1978,"v":200},{"g":"Others","t":1979,"v":10},{"g":"Others","t":1979,"v":280},{"g":"Others","t":1980,"v":730},
      {"g":"Others","t":1980,"v":594},{"g":"Others","t":1980,"v":100},{"g":"Others","t":1980,"v":350},{"g":"Others","t":1981,"v":1168},
      {"g":"Others","t":1981,"v":30},{"g":"Others","t":1981,"v":200},{"g":"Others","t":1981,"v":460},{"g":"Others","t":1982,"v":743},
      {"g":"Others","t":1982,"v":120},{"g":"Others","t":1982,"v":300},{"g":"Others","t":1983,"v":1104},{"g":"Others","t":1983,"v":467},
      {"g":"Others","t":1983,"v":20},{"g":"Others","t":1983,"v":240},{"g":"Others","t":1984,"v":968},{"g":"Others","t":1984,"v":80},
      {"g":"Others","t":1984,"v":350},{"g":"Others","t":1984,"v":600},{"g":"Others","t":1985,"v":1253},{"g":"Others","t":1985,"v":807},
      {"g":"Others","t":1985,"v":160},{"g":"Others","t":1985,"v":450},{"g":"Others","t":1986,"v":30},{"g":"Others","t":1986,"v":280},
      {"g":"Others","t":1986,"v":700},{"g":"Others","t":1987,"v":968},{"g":"Others","t":1987,"v":424},{"g":"Others","t":1987,"v":90},
      {"g":"Others","t":1987,"v":600},{"g":"Others","t":1988,"v":10},{"g":"Others","t":1988,"v":220},{"g":"Others","t":1988,"v":500},
      {"g":"Others","t":1988,"v":800},{"g":"Others","t":1989,"v":120},{"g":"Others","t":1989,"v":380},{"g":"Others","t":1989,"v":650},
      {"g":"Others","t":1990,"v":968},{"g":"Others","t":1990,"v":615},{"g":"Others","t":1990,"v":30},{"g":"Others","t":1990,"v":250},
      {"g":"Others","t":1990,"v":450},{"g":"Others","t":1991,"v":977},{"g":"Others","t":1991,"v":80},{"g":"Others","t":1991,"v":350},
      {"g":"Others","t":1991,"v":700},{"g":"Others","t":1992,"v":637},{"g":"Others","t":1992,"v":10},{"g":"Others","t":1992,"v":200},
      {"g":"Others","t":1992,"v":480},{"g":"Others","t":1992,"v":850},{"g":"Others","t":1993,"v":935},{"g":"Others","t":1993,"v":100},
      {"g":"Others","t":1993,"v":320},{"g":"Others","t":1993,"v":600},{"g":"Others","t":1994,"v":1444},{"g":"Others","t":1994,"v":1062},
      {"g":"Others","t":1994,"v":722},{"g":"Others","t":1994,"v":30},{"g":"Others","t":1994,"v":240},{"g":"Others","t":1994,"v":500},
      {"g":"Others","t":1995,"v":807},{"g":"Others","t":1995,"v":150},{"g":"Others","t":1995,"v":400},{"g":"Others","t":1995,"v":900},
      {"g":"Others","t":1996,"v":60},{"g":"Others","t":1996,"v":300},{"g":"Others","t":1996,"v":650},{"g":"Others","t":1996,"v":1000},
      {"g":"Others","t":1997,"v":807},{"g":"Others","t":1997,"v":10},{"g":"Others","t":1997,"v":250},{"g":"Others","t":1997,"v":500},
      {"g":"Others","t":1997,"v":1100},{"g":"Others","t":1998,"v":2090},{"g":"Others","t":1998,"v":1444},{"g":"Others","t":1998,"v":1062},
      {"g":"Others","t":1998,"v":120},{"g":"Others","t":1998,"v":400},{"g":"Others","t":1998,"v":700},{"g":"Others","t":1999,"v":977},
      {"g":"Others","t":1999,"v":30},{"g":"Others","t":1999,"v":280},{"g":"Others","t":1999,"v":600},{"g":"Others","t":2000,"v":1317},
      {"g":"Others","t":2000,"v":100},{"g":"Others","t":2000,"v":450},{"g":"Others","t":2000,"v":800},{"g":"Others","t":2001,"v":20},
      {"g":"Others","t":2001,"v":250},{"g":"Others","t":2001,"v":600},{"g":"Others","t":2001,"v":900},{"g":"Others","t":2002,"v":150},
      {"g":"Others","t":2002,"v":400},{"g":"Others","t":2002,"v":700},{"g":"Others","t":2002,"v":1050},{"g":"Others","t":2003,"v":850},
      {"g":"Others","t":2003,"v":50},{"g":"Others","t":2003,"v":300},{"g":"Others","t":2003,"v":550},{"g":"Others","t":2004,"v":1402},
      {"g":"Others","t":2004,"v":977},{"g":"Others","t":2004,"v":10},{"g":"Others","t":2004,"v":200},{"g":"Others","t":2004,"v":600},
      {"g":"Others","t":2005,"v":1988},{"g":"Others","t":2005,"v":1380},{"g":"Others","t":2005,"v":120},{"g":"Others","t":2005,"v":400},
      {"g":"Others","t":2005,"v":750},{"g":"Others","t":2006,"v":2251},{"g":"Others","t":2006,"v":1104},{"g":"Others","t":2006,"v":30},
      {"g":"Others","t":2006,"v":300},{"g":"Others","t":2006,"v":650},{"g":"Others","t":2007,"v":1593},{"g":"Others","t":2007,"v":80},
      {"g":"Others","t":2007,"v":250},{"g":"Others","t":2007,"v":500},{"g":"Others","t":2007,"v":900},{"g":"Others","t":2008,"v":1805},
      {"g":"Others","t":2008,"v":1487},{"g":"Others","t":2008,"v":10},{"g":"Others","t":2008,"v":350},{"g":"Others","t":2008,"v":700},
      {"g":"Others","t":2009,"v":1635},{"g":"Others","t":2009,"v":1062},{"g":"Others","t":2009,"v":150},{"g":"Others","t":2009,"v":450},
      {"g":"Others","t":2009,"v":800},{"g":"Others","t":2010,"v":1317},{"g":"Others","t":2010,"v":20},{"g":"Others","t":2010,"v":300},
      {"g":"Others","t":2010,"v":600},{"g":"Others","t":2010,"v":900},{"g":"Others","t":2011,"v":977},{"g":"Others","t":2011,"v":100},
      {"g":"Others","t":2011,"v":400},{"g":"Others","t":2011,"v":700},{"g":"Others","t":2012,"v":2697},{"g":"Others","t":2012,"v":1622},
      {"g":"Others","t":2012,"v":30},{"g":"Others","t":2012,"v":250},{"g":"Others","t":2012,"v":550},{"g":"Others","t":2012,"v":850},
      {"g":"Others","t":2013,"v":1614},{"g":"Others","t":2013,"v":1062},{"g":"Others","t":2013,"v":120},{"g":"Others","t":2013,"v":400},
      {"g":"Others","t":2013,"v":750},{"g":"Others","t":2014,"v":1805},{"g":"Others","t":2014,"v":1606},{"g":"Others","t":2014,"v":1444},
      {"g":"Others","t":2014,"v":60},{"g":"Others","t":2014,"v":300},{"g":"Others","t":2014,"v":600},{"g":"Others","t":2015,"v":764},
      {"g":"Others","t":2015,"v":200},{"g":"Others","t":2015,"v":450},{"g":"Others","t":2015,"v":1000},{"g":"Others","t":2016,"v":2285},
      {"g":"Others","t":2016,"v":1380},{"g":"Others","t":2016,"v":100},{"g":"Others","t":2016,"v":500},{"g":"Others","t":2017,"v":1147},
      {"g":"Others","t":2017,"v":807},{"g":"Others","t":2017,"v":300},{"g":"Others","t":2017,"v":600},{"g":"Others","t":2018,"v":1529},
      {"g":"Others","t":2018,"v":1062},{"g":"Others","t":2018,"v":200},{"g":"Others","t":2018,"v":900},{"g":"Others","t":2019,"v":1253},
      {"g":"Others","t":2019,"v":1020},{"g":"Others","t":2019,"v":807},{"g":"Others","t":2019,"v":400},{"g":"Others","t":2020,"v":1622},
      {"g":"Others","t":2020,"v":1253},{"g":"Others","t":2020,"v":510},{"g":"Others","t":2020,"v":800},{"g":"Others","t":2021,"v":2017},
      {"g":"Others","t":2021,"v":807},{"g":"Others","t":2021,"v":510},{"g":"Others","t":2021,"v":1100},
      {"g":"Others","t":1955,"v":50},{"g":"Others","t":1955,"v":300},{"g":"Others","t":1956,"v":80},{"g":"Others","t":1956,"v":230},
      {"g":"Others","t":1957,"v":120},{"g":"Others","t":1957,"v":10},{"g":"Others","t":1958,"v":190},{"g":"Others","t":1959,"v":90},
      {"g":"Others","t":1959,"v":300},{"g":"Others","t":1960,"v":150},{"g":"Others","t":1961,"v":90},{"g":"Others","t":1961,"v":280},
      {"g":"Others","t":1962,"v":120},{"g":"Others","t":1962,"v":60},{"g":"Others","t":1963,"v":10},{"g":"Others","t":1963,"v":230},
      {"g":"Others","t":1964,"v":110},{"g":"Others","t":1964,"v":190},{"g":"Others","t":1965,"v":140},{"g":"Others","t":1965,"v":300},
      {"g":"Others","t":1966,"v":100},{"g":"Others","t":1966,"v":250},{"g":"Others","t":1966,"v":0},{"g":"Others","t":1967,"v":60},
      {"g":"Others","t":1967,"v":200},{"g":"Others","t":1968,"v":10},{"g":"Others","t":1968,"v":130},{"g":"Others","t":1968,"v":320},
      {"g":"Others","t":1969,"v":70},{"g":"Others","t":1969,"v":220},{"g":"Others","t":1970,"v":120},{"g":"Others","t":1970,"v":280},
      {"g":"Others","t":1971,"v":20},{"g":"Others","t":1971,"v":160},{"g":"Others","t":1972,"v":80},{"g":"Others","t":1972,"v":250},
      {"g":"Others","t":1973,"v":10},{"g":"Others","t":1973,"v":200},{"g":"Others","t":1973,"v":130},{"g":"Others","t":1974,"v":60},
      {"g":"Others","t":1974,"v":280},{"g":"Others","t":1975,"v":20},{"g":"Others","t":1975,"v":180},{"g":"Others","t":1975,"v":350},
      {"g":"Others","t":1976,"v":90},{"g":"Others","t":1976,"v":250},{"g":"Others","t":1977,"v":10},{"g":"Others","t":1977,"v":200},
      {"g":"Others","t":1978,"v":120},{"g":"Others","t":1978,"v":300},{"g":"Others","t":1979,"v":60},{"g":"Others","t":1979,"v":170},
      {"g":"Others","t":1979,"v":400},{"g":"Others","t":1980,"v":20},{"g":"Others","t":1980,"v":220},{"g":"Others","t":1981,"v":110},
      {"g":"Others","t":1981,"v":330},{"g":"Others","t":1982,"v":40},{"g":"Others","t":1982,"v":210},{"g":"Others","t":1982,"v":420},
      {"g":"Others","t":1983,"v":130},{"g":"Others","t":1983,"v":330},{"g":"Others","t":1984,"v":20},{"g":"Others","t":1984,"v":200},
      {"g":"Others","t":1984,"v":480},{"g":"Others","t":1985,"v":60},{"g":"Others","t":1985,"v":300},{"g":"Others","t":1986,"v":120},
      {"g":"Others","t":1986,"v":400},{"g":"Others","t":1986,"v":550},{"g":"Others","t":1987,"v":20},{"g":"Others","t":1987,"v":250},
      {"g":"Others","t":1988,"v":110},{"g":"Others","t":1988,"v":350},{"g":"Others","t":1988,"v":650},{"g":"Others","t":1989,"v":20},
      {"g":"Others","t":1989,"v":250},{"g":"Others","t":1989,"v":500},{"g":"Others","t":1990,"v":120},{"g":"Others","t":1990,"v":350},
      {"g":"Others","t":1990,"v":780},{"g":"Others","t":1991,"v":20},{"g":"Others","t":1991,"v":200},{"g":"Others","t":1991,"v":500},
      {"g":"Others","t":1992,"v":100},{"g":"Others","t":1992,"v":330},{"g":"Others","t":1992,"v":700},{"g":"Others","t":1993,"v":30},
      {"g":"Others","t":1993,"v":200},{"g":"Others","t":1993,"v":450},{"g":"Others","t":1993,"v":780},{"g":"Others","t":1994,"v":120},
      {"g":"Others","t":1994,"v":380},{"g":"Others","t":1994,"v":850},{"g":"Others","t":1995,"v":20},{"g":"Others","t":1995,"v":280},
      {"g":"Others","t":1995,"v":550},{"g":"Others","t":1995,"v":700},{"g":"Others","t":1996,"v":150},{"g":"Others","t":1996,"v":450},
      {"g":"Others","t":1996,"v":800},{"g":"Others","t":1997,"v":100},{"g":"Others","t":1997,"v":380},{"g":"Others","t":1997,"v":650},
      {"g":"Others","t":1997,"v":950},{"g":"Others","t":1998,"v":20},{"g":"Others","t":1998,"v":250},{"g":"Others","t":1998,"v":550},
      {"g":"Others","t":1998,"v":850},{"g":"Others","t":1999,"v":150},{"g":"Others","t":1999,"v":450},{"g":"Others","t":1999,"v":750},
      {"g":"Others","t":1999,"v":1150},{"g":"Others","t":2000,"v":20},{"g":"Others","t":2000,"v":300},{"g":"Others","t":2000,"v":600},
      {"g":"Others","t":2000,"v":950},{"g":"Others","t":2000,"v":1200},{"g":"Others","t":2001,"v":120},{"g":"Others","t":2001,"v":450},
      {"g":"Others","t":2001,"v":750},{"g":"Others","t":2001,"v":1100},{"g":"Others","t":2002,"v":20},{"g":"Others","t":2002,"v":280},
      {"g":"Others","t":2002,"v":550},{"g":"Others","t":2002,"v":850},{"g":"Others","t":2002,"v":1250},{"g":"Others","t":2003,"v":180},
      {"g":"Others","t":2003,"v":420},{"g":"Others","t":2003,"v":700},{"g":"Others","t":2003,"v":1000},{"g":"Others","t":2003,"v":1150},
      {"g":"Others","t":2004,"v":100},{"g":"Others","t":2004,"v":400},{"g":"Others","t":2004,"v":800},{"g":"Others","t":2004,"v":1150},
      {"g":"Others","t":2005,"v":20},{"g":"Others","t":2005,"v":250},{"g":"Others","t":2005,"v":550},{"g":"Others","t":2005,"v":950},
      {"g":"Others","t":2005,"v":1100},{"g":"Others","t":2006,"v":150},{"g":"Others","t":2006,"v":450},{"g":"Others","t":2006,"v":800},
      {"g":"Others","t":2006,"v":950},{"g":"Others","t":2007,"v":20},{"g":"Others","t":2007,"v":350},{"g":"Others","t":2007,"v":700},
      {"g":"Others","t":2007,"v":1100},{"g":"Others","t":2007,"v":1250},{"g":"Others","t":2008,"v":150},{"g":"Others","t":2008,"v":500},
      {"g":"Others","t":2008,"v":850},{"g":"Others","t":2008,"v":1150},{"g":"Others","t":2009,"v":20},{"g":"Others","t":2009,"v":300},
      {"g":"Others","t":2009,"v":650},{"g":"Others","t":2009,"v":950},{"g":"Others","t":2009,"v":1250},{"g":"Others","t":2010,"v":150},
      {"g":"Others","t":2010,"v":450},{"g":"Others","t":2010,"v":750},{"g":"Others","t":2010,"v":1100},{"g":"Others","t":2011,"v":20},
      {"g":"Others","t":2011,"v":250},{"g":"Others","t":2011,"v":550},{"g":"Others","t":2011,"v":850},{"g":"Others","t":2011,"v":1200},
      {"g":"Others","t":2012,"v":120},{"g":"Others","t":2012,"v":400},{"g":"Others","t":2012,"v":700},{"g":"Others","t":2012,"v":1000},
      {"g":"Others","t":2013,"v":20},{"g":"Others","t":2013,"v":250},{"g":"Others","t":2013,"v":550},{"g":"Others","t":2013,"v":900},
      {"g":"Others","t":2013,"v":1250},{"g":"Others","t":2014,"v":180},{"g":"Others","t":2014,"v":450},{"g":"Others","t":2014,"v":850},
      {"g":"Others","t":2014,"v":1100},{"g":"Others","t":2015,"v":100},{"g":"Others","t":2015,"v":300},{"g":"Others","t":2015,"v":600},
      {"g":"Others","t":2015,"v":850},{"g":"Others","t":2015,"v":1250},{"g":"Others","t":2016,"v":250},{"g":"Others","t":2016,"v":700},
      {"g":"Others","t":2016,"v":900},{"g":"Others","t":2016,"v":1150},{"g":"Others","t":2017,"v":100},{"g":"Others","t":2017,"v":450},
      {"g":"Others","t":2017,"v":950},{"g":"Others","t":2017,"v":1300},{"g":"Others","t":2018,"v":400},{"g":"Others","t":2018,"v":600},
      {"g":"Others","t":2018,"v":1200},{"g":"Others","t":2019,"v":150},{"g":"Others","t":2019,"v":600},{"g":"Others","t":2019,"v":1150},
      {"g":"Others","t":2020,"v":300},{"g":"Others","t":2020,"v":950},{"g":"Others","t":2020,"v":1100},{"g":"Others","t":2021,"v":200},
      {"g":"Others","t":2021,"v":650},{"g":"Others","t":2021,"v":1250},{"g":"Others","t":2022,"v":800}
    ]
  },
  "resolve": {"legend": {"color": "independent", "shape": "independent"}},
  "hconcat": [
    {
      "width": 694, "height": 823,
      "title": {"text": "BOF"},
      "layer": [
        {
          "data": {"name": "bof"},
          "mark": {"type": "point", "filled": false, "strokeWidth": 2.5, "opacity": 1},
          "encoding": {
            "x": {"field": "t", "type": "quantitative", "scale": {"domain": [1917.2, 2025], "nice": false, "zero": false},
                  "axis": {"values": [1920, 1940, 1960, 1980, 2000, 2020], "format": "d", "title": null}},
            "y": {"field": "v", "type": "quantitative", "scale": {"domain": [-230, 10240], "nice": false},
                  "axis": {"values": [0, 2000, 4000, 6000, 8000, 10000], "format": "d", "title": "Thousand tonnes"}},
            "color": {"field": "g", "type": "nominal", "title": null,
                      "scale": {"domain": ["OECD", "China", "Others"], "range": ["#1E90FF", "#D6145A", "#52309A"]}},
            "shape": {"field": "g", "type": "nominal", "title": null,
                      "scale": {"domain": ["OECD", "China", "Others"], "range": ["circle", "triangle-up", "triangle-up"]}},
            "size": {"field": "g", "type": "nominal", "legend": null,
                     "scale": {"domain": ["OECD", "China", "Others"], "range": [60, 135, 135]}}
          }
        },
        {
          "data": {"name": "cutoff"},
          "mark": {"type": "rule", "color": "black", "strokeWidth": 2},
          "encoding": {"x": {"field": "year", "type": "quantitative"}}
        },
        {
          "data": {"name": "notes"},
          "mark": {"type": "text", "font": "Liberation Sans", "fontWeight": "bold", "fontSize": 46, "baseline": "alphabetic", "align": "center", "color": "#555555", "opacity": 0.55, "dx": 4, "dy": 4},
          "encoding": {"x": {"field": "t", "type": "quantitative"}, "y": {"field": "v", "type": "quantitative"}, "text": {"field": "label"}}
        },
        {
          "data": {"name": "notes"},
          "mark": {"type": "text", "font": "Liberation Sans", "fontWeight": "bold", "fontSize": 46, "baseline": "alphabetic", "align": "center", "color": "black"},
          "encoding": {"x": {"field": "t", "type": "quantitative"}, "y": {"field": "v", "type": "quantitative"}, "text": {"field": "label"}}
        }
      ]
    },
    {
      "width": 694, "height": 823,
      "title": {"text": "EAF/Other"},
      "layer": [
        {
          "data": {"name": "eaf"},
          "mark": {"type": "point", "filled": false, "strokeWidth": 2.5, "opacity": 1},
          "encoding": {
            "x": {"field": "t", "type": "quantitative", "scale": {"domain": [1917.2, 2025], "nice": false, "zero": false},
                  "axis": {"values": [1920, 1940, 1960, 1980, 2000, 2020], "format": "d", "title": null}},
            "y": {"field": "v", "type": "quantitative", "scale": {"domain": [-230, 10240], "nice": false},
                  "axis": {"values": [0, 2000, 4000, 6000, 8000, 10000], "format": "d", "title": "Thousand tonnes"}},
            "color": {"field": "g", "type": "nominal", "title": null,
                      "scale": {"domain": ["OECD", "China", "Others"], "range": ["#1E90FF", "#D6145A", "#52309A"]}},
            "shape": {"field": "g", "type": "nominal", "title": null,
                      "scale": {"domain": ["OECD", "China", "Others"], "range": ["circle", "triangle-up", "triangle-up"]}},
            "size": {"field": "g", "type": "nominal", "legend": null,
                     "scale": {"domain": ["OECD", "China", "Others"], "range": [60, 135, 135]}}
          }
        },
        {
          "data": {"name": "cutoff"},
          "mark": {"type": "rule", "color": "black", "strokeWidth": 2},
          "encoding": {"x": {"field": "year", "type": "quantitative"}}
        },
        {
          "data": {"name": "notes"},
          "mark": {"type": "text", "font": "Liberation Sans", "fontWeight": "bold", "fontSize": 46, "baseline": "alphabetic", "align": "center", "color": "#555555", "opacity": 0.55, "dx": 4, "dy": 4},
          "encoding": {"x": {"field": "t", "type": "quantitative"}, "y": {"field": "v", "type": "quantitative"}, "text": {"field": "label"}}
        },
        {
          "data": {"name": "notes"},
          "mark": {"type": "text", "font": "Liberation Sans", "fontWeight": "bold", "fontSize": 46, "baseline": "alphabetic", "align": "center", "color": "black"},
          "encoding": {"x": {"field": "t", "type": "quantitative"}, "y": {"field": "v", "type": "quantitative"}, "text": {"field": "label"}}
        }
      ]
    }
  ]
}
